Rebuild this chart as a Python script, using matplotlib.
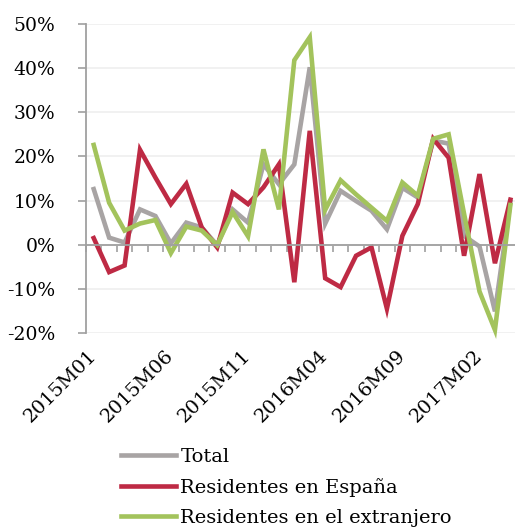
import numpy as np
import matplotlib
matplotlib.use("Agg")
import matplotlib.pyplot as plt
from matplotlib.ticker import FuncFormatter, MultipleLocator

# meses 2015M01 .. 2017M04
meses = [f"{a}M{m:02d}" for a in (2015, 2016, 2017) for m in range(1, 13)][:28]

total = [12.6, 1.6, 0.5, 8.0, 6.5, 0.3, 5.0, 3.9, -0.1, 8.0, 5.0, 18.2, 13.7, 18.2,
         40.2, 4.8, 12.2, 9.9, 7.7, 3.5, 12.9, 10.7, 23.6, 22.9, 2.0, -0.4, -15.1, 9.7]
espana = [1.5, -6.2, -4.7, 21.5, 15.2, 9.2, 13.8, 3.9, -0.6, 11.8, 9.2, 13.0, 18.2, -8.5,
          25.8, -7.6, -9.6, -2.5, -0.6, -14.5, 2.0, 9.2, 24.0, 19.7, -2.5, 16.0, -4.2, 10.2]
extranjero = [22.6, 9.5, 3.2, 4.8, 5.6, -1.9, 4.1, 3.2, -0.1, 7.4, 1.9, 21.6, 8.0, 41.8,
              47.0, 7.9, 14.6, 11.4, 8.4, 5.4, 14.1, 11.1, 24.0, 25.0, 7.0, -10.6, -19.3, 9.0]

series = [("Total", total, "#A8A4A4"),
          ("Residentes en España", espana, "#BE2A44"),
          ("Residentes en el extranjero", extranjero, "#A3C35C")]

plt.rcParams['font.family'] = ['DejaVu Serif']
fs = 14

fig = plt.figure(figsize=(5.15, 5.30), dpi=100)
W, H = 515, 530
ax = fig.add_axes([86 / W, 1 - 333 / H, (515 - 86) / W, (333 - 24) / H])

x = np.arange(len(meses))
lineas = []
for nombre, vals, col in series:
    l, = ax.plot(x, vals, color=col, lw=3.3, solid_joinstyle='miter', label=nombre,
                 clip_on=False)
    lineas.append(l)

ax.set_ylim(-20, 50)
ax.set_xlim(-0.5, 27.3)
ax.yaxis.set_major_locator(MultipleLocator(10))
ax.yaxis.set_major_formatter(FuncFormatter(lambda v, p: f"{v:.0f}%"))
ax.grid(axis='y', color='#EFEFEF', lw=1.2)
ax.set_axisbelow(True)

for s in ['top', 'right']:
    ax.spines[s].set_visible(False)
ax.spines['left'].set_color('#A0A0A0')
ax.spines['left'].set_linewidth(1.3)
ax.spines['bottom'].set_position(('data', 0))
ax.spines['bottom'].set_color('#A0A0A0')
ax.spines['bottom'].set_linewidth(1.3)

ax.tick_params(axis='y', direction='out', length=6, width=1.2, color='#A0A0A0',
               labelsize=13.5, pad=16)
# marcas entre categorias sobre la linea del cero
ax.set_xticks(np.arange(-0.5, 27.5, 1))
ax.tick_params(axis='x', direction='out', length=5, width=1.2, color='#A0A0A0',
               labelbottom=False)

# etiquetas de fecha abajo
sec = ax.secondary_xaxis(location=0)
sec.spines['bottom'].set_visible(False)
sec.set_xticks(x[::5])
sec.set_xticklabels(meses[::5], rotation=45, ha='right', va='center',
                    rotation_mode='anchor', fontsize=fs)
sec.tick_params(axis='x', length=0, pad=14)

fig.legend(handles=lineas, loc='upper left', bbox_to_anchor=(121 / W, 1 - 448 / H),
           frameon=False, fontsize=fs, handlelength=2.85, handletextpad=0.2,
           labelspacing=0.62, borderpad=0, borderaxespad=0)

fig.savefig("out.png", dpi=100)
